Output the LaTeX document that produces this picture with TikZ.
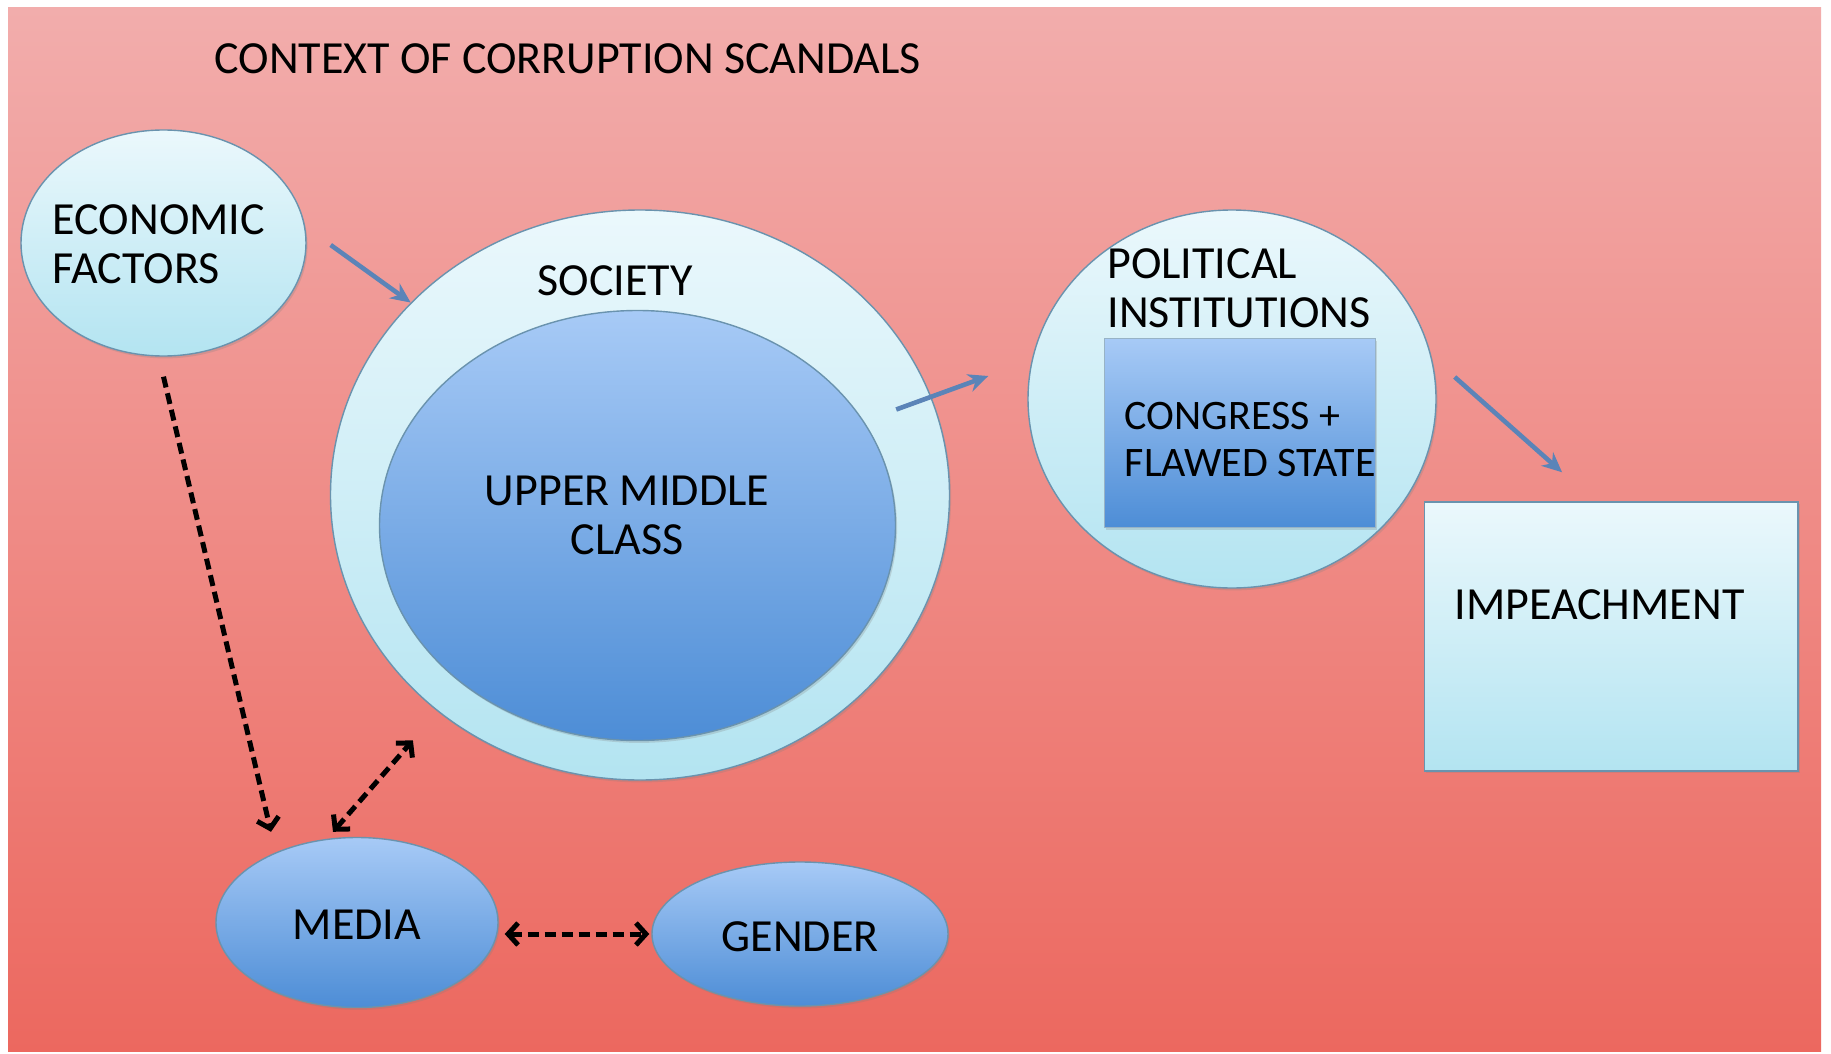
\documentclass[tikz,border=0pt]{standalone}
\usepackage{fontspec}
\setmainfont{Carlito}
\usepackage{tikz}
\usetikzlibrary{positioning, shapes, arrows.meta, calc, shadows}

\definecolor{bgtop}{HTML}{F2ADAC}
\definecolor{bgbot}{HTML}{EC685F}
\definecolor{cyantop}{HTML}{EBF8FC}
\definecolor{cyanbot}{HTML}{B3E4F1}
\definecolor{bluetop}{HTML}{A7CAF6}
\definecolor{bluebot}{HTML}{4D8DD6}
\definecolor{rim}{HTML}{6A93AE}
\definecolor{flowblue}{HTML}{5B84B8}

\begin{document}
\begin{tikzpicture}[x=0.5pt, y=-0.5pt,
  every node/.style={font=\fontsize{23}{24.5}\selectfont, text=black, inner sep=0pt},
  soft/.style={drop shadow={shadow xshift=0.8pt, shadow yshift=-1.2pt, opacity=0.25}},
  lightbubble/.style={ellipse, soft, draw=rim, line width=0.7pt, top color=cyantop, bottom color=cyanbot},
  bluebubble/.style={ellipse, soft, draw=rim, line width=0.7pt, top color=bluetop, bottom color=bluebot},
  lightbox/.style={rectangle, soft, draw=rim, line width=0.7pt, top color=cyantop, bottom color=cyanbot},
  bluebox/.style={rectangle, soft, draw=rim!70, line width=0.5pt, top color=bluetop, bottom color=bluebot},
  flow/.style={-{Stealth[length=10pt,width=9pt]}, line width=2.3pt, draw=flowblue},
  link/.style={-{Straight Barb[length=5pt,width=11pt]}, line width=2.5pt, dash pattern=on 5.5pt off 3pt},
  twolink/.style={{Straight Barb[length=5pt,width=11pt]}-{Straight Barb[length=5pt,width=11pt]}, line width=2.5pt, dash pattern=on 5.5pt off 3pt},
]
  \useasboundingbox (0,0) rectangle (1831,1054);
  \shade[top color=bgtop, bottom color=bgbot] (8,8) rectangle (1821,1051);

  % shapes
  \node[lightbubble, minimum width=142.5pt, minimum height=113pt] (econ) at (163.5,243) {};
  \node[lightbubble, minimum width=309.5pt, minimum height=285pt] (society) at (640,495) {};
  \node[bluebubble, minimum width=258pt, minimum height=215pt] (umc) at (637.5,525.5) {};
  \node[lightbubble, minimum width=204pt, minimum height=189pt] (pol) at (1232,399) {};
  \node[bluebox, minimum width=135.5pt, minimum height=94.6pt] (congress) at (1240.1,433.2) {};
  \node[lightbox, minimum width=186.7pt, minimum height=134.4pt] (imp) at (1611.3,636.4) {};
  \node[bluebubble, minimum width=141pt, minimum height=85pt] (media) at (357,922.5) {};
  \node[bluebubble, minimum width=148pt, minimum height=72pt] (gender) at (800,934) {};

  % texts
  \node[anchor=west] (title) at (214,58.5) {CONTEXT OF CORRUPTION SCANDALS};
  \node[anchor=west, align=left] (econtext) at (52.5,244) {ECONOMIC\\FACTORS};
  \node (soctext) at (615,281) {SOCIETY};
  \node[align=center] (umctext) at (627,515.5) {UPPER MIDDLE\\CLASS};
  \node[anchor=west, align=left] (poltext) at (1107,288.5) {POLITICAL\\INSTITUTIONS};
  \node[anchor=west, align=left, font=\fontsize{21}{23.5}\selectfont] (congtext) at (1124.5,440) {CONGRESS +\\FLAWED STATE};
  \node[anchor=west] (imptext) at (1454,605) {IMPEACHMENT};
  \node (mediatext) at (357,925) {MEDIA};
  \node (gendertext) at (800,936.5) {GENDER};

  % connectors
  \draw[flow] ([xshift=12pt,yshift=-1pt]econ.east) -- (society.140);
  \draw[flow] ([yshift=58pt]umc.east) -- ([xshift=-19.5pt,yshift=11.5pt]pol.west);
  \draw[flow] ([xshift=9pt,yshift=11pt]pol.east) -- ([xshift=-24.6pt,yshift=14.5pt]imp.north);
  \draw[link] ([yshift=-10pt]econ.south) -- ([xshift=-43pt,yshift=2.5pt]media.north);
  \draw[twolink, shorten >=19pt] ([xshift=-12pt,yshift=2.5pt]media.north) -- (society.227);
  \draw[twolink] ([xshift=3pt,yshift=-5.75pt]media.east) -- ([xshift=-1pt]gender.west);
\end{tikzpicture}
\end{document}
